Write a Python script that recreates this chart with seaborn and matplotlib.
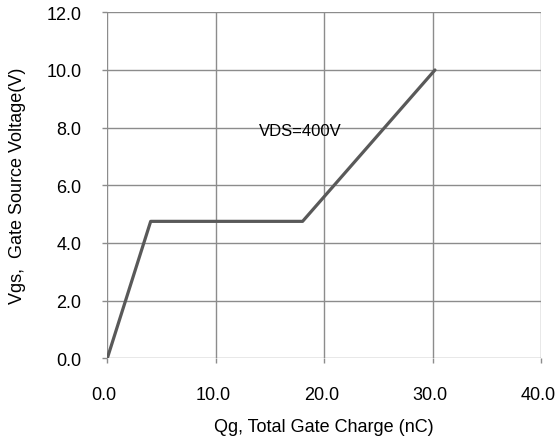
import matplotlib
matplotlib.use("Agg")
import matplotlib.pyplot as plt
import matplotlib.transforms as mtransforms
import seaborn as sns
import pandas as pd

qg = [0.0, 4.0, 18.0, 30.2]
vgs = [0.0, 4.75, 4.75, 10.0]
x_ticks = [0, 10, 20, 30, 40]
y_ticks = [0, 2, 4, 6, 8, 10, 12]
annotation = "VDS=400V"

sns.set_theme(style="white")
plt.rcParams['font.family'] = ['Liberation Sans', 'DejaVu Sans']

df = pd.DataFrame({"qg": qg, "vgs": vgs})

fig = plt.figure(figsize=(5.57, 4.39), dpi=100)
ax = fig.add_axes([0.1926, 0.1815, 0.7792, 0.7882])
sns.lineplot(data=df, x="qg", y="vgs", sort=False, color="#595959", linewidth=2.3, ax=ax)

ax.set_xlim(0, 40)
ax.set_ylim(0, 12)
ax.set_xticks(x_ticks)
ax.set_yticks(y_ticks)
ax.set_xticklabels([f"{v:.1f}" for v in x_ticks], fontsize=13, color="#000000")
ax.set_yticklabels([f"{v:.1f}" for v in y_ticks], fontsize=13, color="#000000")
ax.grid(True, color="#8c8c8c", linewidth=1.0)
ax.set_axisbelow(True)
for s in ax.spines.values():
    s.set_visible(False)
ax.tick_params(axis="both", which="both", length=3.6, width=1.0, color="#8c8c8c",
               direction="out", left=True, bottom=True)
ax.tick_params(axis="x", pad=16.5)
ax.tick_params(axis="y", pad=15)

shift = mtransforms.ScaledTranslation(-3 / 100, 0, fig.dpi_scale_trans)
for lbl in ax.get_xticklabels():
    lbl.set_transform(lbl.get_transform() + shift)

ax.text(17.8, 7.91, annotation, fontsize=12, ha="center", va="center", color="#000000")
ax.set_xlabel("Qg, Total Gate Charge (nC)", fontsize=13, color="#000000", labelpad=10.4)
ax.set_ylabel("Vgs,  Gate Source Voltage(V)", fontsize=13, color="#000000", labelpad=14.5)

fig.savefig("out.png", dpi=100)
